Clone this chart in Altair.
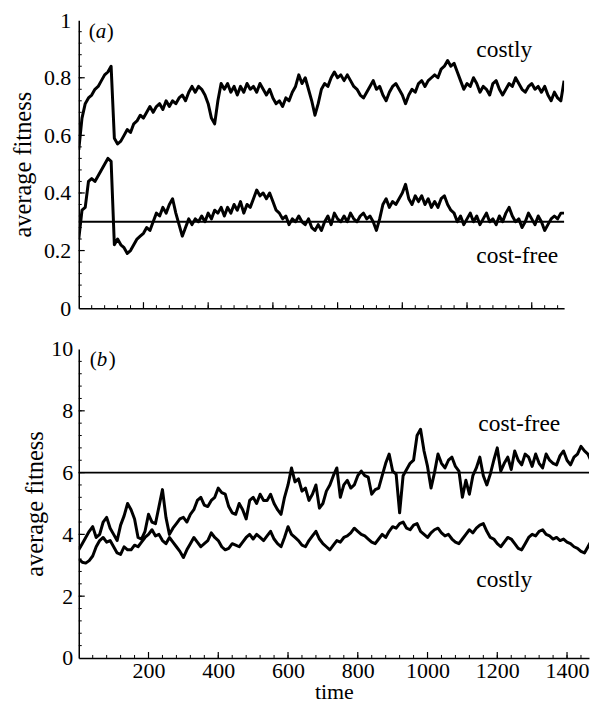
import altair as alt
import pandas as pd

FONT = "Liberation Serif"

# ---------------- panel (a) ----------------
TOP_TIME = list(range(0, 1501, 10))
TOP_COSTLY = [
    0.55, 0.66, 0.71, 0.73, 0.74, 0.76, 0.77, 0.79, 0.81, 0.82,
    0.84, 0.59, 0.57, 0.58, 0.60, 0.62, 0.61, 0.64, 0.65, 0.67,
    0.66, 0.68, 0.70, 0.68, 0.70, 0.71, 0.69, 0.72, 0.70, 0.72,
    0.71, 0.73, 0.74, 0.72, 0.75, 0.77, 0.75, 0.77, 0.76, 0.74,
    0.71, 0.66, 0.64, 0.72, 0.78, 0.76, 0.78, 0.75, 0.77, 0.74,
    0.77, 0.75, 0.78, 0.76, 0.77, 0.75, 0.78, 0.76, 0.74, 0.76,
    0.73, 0.71, 0.72, 0.70, 0.73, 0.72, 0.75, 0.77, 0.81, 0.78,
    0.80, 0.76, 0.72, 0.67, 0.71, 0.76, 0.78, 0.77, 0.80, 0.82,
    0.80, 0.81, 0.79, 0.81, 0.79, 0.77, 0.76, 0.74, 0.73, 0.75,
    0.77, 0.79, 0.76, 0.77, 0.74, 0.72, 0.75, 0.77, 0.78, 0.76,
    0.74, 0.71, 0.74, 0.76, 0.75, 0.78, 0.79, 0.77, 0.79, 0.80,
    0.81, 0.80, 0.83, 0.84, 0.86, 0.84, 0.85, 0.82, 0.79, 0.76,
    0.78, 0.77, 0.80, 0.78, 0.75, 0.77, 0.76, 0.74, 0.78, 0.79,
    0.76, 0.74, 0.76, 0.78, 0.77, 0.80, 0.78, 0.76, 0.75, 0.77,
    0.78, 0.76, 0.77, 0.75, 0.77, 0.74, 0.72, 0.75, 0.73, 0.72,
    0.79,
]
TOP_COSTFREE = [
    0.24, 0.34, 0.35, 0.44, 0.45, 0.44, 0.46, 0.48, 0.50, 0.52,
    0.51, 0.22, 0.24, 0.22, 0.21, 0.19, 0.20, 0.22, 0.24, 0.25,
    0.26, 0.28, 0.27, 0.30, 0.33, 0.32, 0.35, 0.33, 0.36, 0.38,
    0.33, 0.29, 0.25, 0.28, 0.31, 0.29, 0.31, 0.30, 0.32, 0.30,
    0.33, 0.31, 0.34, 0.33, 0.35, 0.32, 0.35, 0.33, 0.36, 0.34,
    0.37, 0.33, 0.36, 0.35, 0.38, 0.41, 0.39, 0.40, 0.38, 0.40,
    0.37, 0.34, 0.33, 0.31, 0.32, 0.29, 0.31, 0.30, 0.32, 0.30,
    0.29, 0.31, 0.28, 0.27, 0.29, 0.27, 0.30, 0.32, 0.29, 0.33,
    0.31, 0.30, 0.32, 0.30, 0.33, 0.31, 0.30, 0.32, 0.33, 0.31,
    0.32, 0.30, 0.27, 0.31, 0.36, 0.38, 0.35, 0.37, 0.36, 0.38,
    0.40, 0.43, 0.38, 0.36, 0.39, 0.37, 0.39, 0.36, 0.38, 0.35,
    0.37, 0.35, 0.38, 0.39, 0.36, 0.34, 0.33, 0.30, 0.32, 0.29,
    0.31, 0.33, 0.30, 0.32, 0.29, 0.31, 0.33, 0.30, 0.31, 0.29,
    0.32, 0.30, 0.33, 0.35, 0.32, 0.30, 0.31, 0.28, 0.30, 0.33,
    0.31, 0.29, 0.32, 0.30, 0.27, 0.29, 0.31, 0.32, 0.31, 0.33,
    0.33,
]
TOP_LEVEL = [0.3]
TOP_X_DOMAIN = [0, 1500]
TOP_Y_DOMAIN = [0, 1]
TOP_Y_LABELS = [0, 0.2, 0.4, 0.6, 0.8, 1]
TOP_X_MAJOR = [200, 400, 600, 800, 1000, 1200, 1400]
TOP_X_MINOR = list(range(40, 1500, 40))
TOP_Y_MAJOR = [0.2, 0.4, 0.6, 0.8]
TOP_Y_MINOR = [round(0.04 * i, 2) for i in range(1, 25)]

# ---------------- panel (b) ----------------
BOT_TIME = list(range(0, 1481, 10))
BOT_COSTFREE = [
    3.5, 3.7, 3.9, 4.1, 4.25, 3.9, 4.0, 4.4, 4.55, 4.2,
    4.0, 3.8, 4.3, 4.6, 5.0, 4.8, 4.5, 3.9, 3.85, 4.1,
    4.65, 4.4, 4.35, 4.9, 5.45, 4.55, 4.0, 4.2, 4.35, 4.5,
    4.55, 4.4, 4.65, 4.8, 5.1, 5.2, 4.95, 4.9, 5.1, 5.2,
    5.5, 5.35, 5.3, 4.9, 4.7, 4.65, 5.0, 4.8, 4.5, 5.1,
    5.2, 5.0, 5.3, 5.1, 5.1, 5.3, 5.0, 4.8, 4.65, 5.2,
    5.6, 6.15, 5.7, 5.8, 5.4, 5.5, 5.1, 5.3, 5.6, 4.85,
    5.0, 5.4, 5.6, 5.9, 6.15, 5.2, 5.6, 5.75, 5.5, 5.6,
    5.9, 6.05, 5.9, 5.85, 5.3, 5.45, 5.5, 5.9, 6.3, 6.6,
    6.05, 5.95, 4.7, 5.9, 6.1, 6.3, 6.4, 7.2, 7.4, 6.7,
    6.2, 5.5, 6.0, 6.6, 6.3, 6.15, 6.4, 6.5, 6.2, 6.05,
    5.2, 5.75, 5.3, 5.9, 6.15, 6.5, 5.9, 5.6, 5.95, 6.4,
    6.8, 6.05, 6.3, 6.5, 6.1, 6.7, 6.4, 6.25, 6.6, 6.5,
    6.2, 6.6, 6.3, 6.15, 6.6, 6.4, 6.3, 6.25, 6.55, 6.7,
    6.4, 6.25, 6.5, 6.6, 6.85, 6.7, 6.6, 6.35, 6.4,
]
BOT_COSTLY = [
    3.2, 3.1, 3.07, 3.15, 3.3, 3.6, 3.8, 3.9, 3.75, 3.8,
    3.6, 3.4, 3.35, 3.6, 3.5, 3.5, 3.65, 3.6, 3.75, 3.9,
    4.0, 4.15, 3.95, 4.0, 3.8, 3.7, 3.9, 3.75, 3.6, 3.45,
    3.25, 3.5, 3.7, 3.9, 3.75, 3.6, 3.7, 3.8, 4.05, 3.9,
    3.8, 3.6, 3.5, 3.55, 3.7, 3.65, 3.6, 3.75, 3.9, 4.0,
    3.85, 4.0, 3.9, 3.8, 3.95, 4.1, 3.85, 3.7, 3.6, 3.9,
    4.25, 4.0, 3.9, 3.8, 3.65, 3.6, 3.8, 3.95, 4.1, 3.85,
    3.7, 3.6, 3.5, 3.65, 3.8, 3.75, 3.9, 3.95, 4.05, 4.2,
    4.1, 4.0, 3.95, 3.85, 3.75, 3.7, 3.85, 4.0, 3.9, 4.1,
    4.25, 4.2, 4.35, 4.4, 4.2, 4.15, 4.3, 4.35, 4.1, 4.0,
    3.9, 4.05, 4.15, 4.2, 4.05, 3.95, 4.0, 3.85, 3.75, 3.7,
    3.85, 4.0, 4.15, 4.05, 4.2, 4.3, 4.35, 4.1, 3.9, 3.85,
    3.7, 3.6, 3.75, 3.9, 3.85, 3.7, 3.55, 3.5, 3.7, 3.9,
    4.0, 3.95, 4.1, 4.15, 4.0, 3.95, 3.85, 3.9, 3.8, 3.85,
    3.75, 3.7, 3.6, 3.55, 3.45, 3.4, 3.6, 3.8, 4.25,
]
BOT_LEVEL = [6.0]
BOT_X_DOMAIN = [0, 1463]
BOT_Y_DOMAIN = [0, 10]
BOT_Y_LABELS = [0, 2, 4, 6, 8, 10]
BOT_X_LABELS = [200, 400, 600, 800, 1000, 1200, 1400]
BOT_X_MINOR = list(range(40, 1463, 40))
BOT_Y_MAJOR = [2, 4, 6, 8]
BOT_Y_MINOR = [round(0.4 * i, 1) for i in range(1, 25)]

TOP_W, TOP_H = 487, 289
BOT_W, BOT_H = 512, 310


def text_layer(label, x, y, italic=False, align="center", size=23.5):
    return alt.Chart(pd.DataFrame({"label": [label]})).mark_text(
        font=FONT, fontSize=size, align=align, baseline="middle",
        fontStyle="italic" if italic else "normal", color="black",
    ).encode(text="label:N", x=alt.value(x), y=alt.value(y))


def panel(time, s1, s2, level, xdom, ydom, w, h, x_axis, y_axis,
          xmajor, xminor, ymajor, yminor, texts):
    n = len(time)
    df = pd.DataFrame({
        "time": time + time,
        "fitness": s1 + s2,
        "series": ["costly"] * n + ["cost-free"] * n,
    })
    xs = alt.Scale(domain=xdom, nice=False, zero=False)
    ys = alt.Scale(domain=ydom, nice=False, zero=False)
    lines = alt.Chart(df).mark_line(
        color="black", strokeWidth=3, clip=True, strokeJoin="round"
    ).encode(
        x=alt.X("time:Q", scale=xs, axis=x_axis),
        y=alt.Y("fitness:Q", scale=ys, axis=y_axis),
        detail="series:N",
    )
    hline = alt.Chart(pd.DataFrame({"fitness": level})).mark_rule(
        color="black", strokeWidth=1.8
    ).encode(y="fitness:Q")
    xt_minor = alt.Chart(pd.DataFrame({"time": xminor})).mark_rule(
        color="black", strokeWidth=1
    ).encode(x="time:Q", y=alt.value(h), y2=alt.value(h - 3))
    xt_major = alt.Chart(pd.DataFrame({"time": xmajor})).mark_rule(
        color="black", strokeWidth=1.2
    ).encode(x="time:Q", y=alt.value(h), y2=alt.value(h - 6))
    yt_minor = alt.Chart(pd.DataFrame({"fitness": yminor})).mark_rule(
        color="black", strokeWidth=1
    ).encode(y="fitness:Q", x=alt.value(0), x2=alt.value(3))
    yt_major = alt.Chart(pd.DataFrame({"fitness": ymajor})).mark_rule(
        color="black", strokeWidth=1.2
    ).encode(y="fitness:Q", x=alt.value(0), x2=alt.value(6))
    return alt.layer(
        lines, hline, xt_minor, xt_major, yt_minor, yt_major, *texts
    ).properties(width=w, height=h)


top = panel(
    TOP_TIME, TOP_COSTLY, TOP_COSTFREE, TOP_LEVEL, TOP_X_DOMAIN, TOP_Y_DOMAIN,
    TOP_W, TOP_H,
    alt.Axis(title=None, labels=False, ticks=False, grid=False),
    alt.Axis(title="average fitness", values=TOP_Y_LABELS, format="~g",
             ticks=False, grid=False, labelPadding=8, titlePadding=8,
             labelFontSize=22, titleFontSize=24.5),
    TOP_X_MAJOR, TOP_X_MINOR, TOP_Y_MAJOR, TOP_Y_MINOR,
    [
        text_layer("(", 10, 12, align="left", size=21),
        text_layer("a", 17, 12, italic=True, align="left", size=21),
        text_layer(")", 28, 12, align="left", size=21),
        text_layer("costly", 427, 30),
        text_layer("cost-free", 440, 237),
    ],
)

bottom = panel(
    BOT_TIME, BOT_COSTLY, BOT_COSTFREE, BOT_LEVEL, BOT_X_DOMAIN, BOT_Y_DOMAIN,
    BOT_W, BOT_H,
    alt.Axis(title="time", values=BOT_X_LABELS, format="d", ticks=False,
             grid=False, labelPadding=3, titlePadding=0,
             labelFontSize=22, titleFontSize=22),
    alt.Axis(title="average fitness", values=BOT_Y_LABELS, format="d",
             ticks=False, grid=False, labelPadding=6, titlePadding=3,
             labelFontSize=22, titleFontSize=24.5),
    BOT_X_LABELS, BOT_X_MINOR, BOT_Y_MAJOR, BOT_Y_MINOR,
    [
        text_layer("(", 11, 11, align="left", size=21),
        text_layer("b", 18, 11, italic=True, align="left", size=21),
        text_layer(")", 30, 11, align="left", size=21),
        text_layer("cost-free", 442, 75),
        text_layer("costly", 427, 232),
    ],
)

chart = alt.vconcat(top, bottom, spacing=41, bounds="flush").properties(
    padding={"left": 2, "top": 0, "right": 0, "bottom": 0},
    background="white",
).configure_view(stroke=None).configure_axis(
    labelFont=FONT, labelColor="black",
    titleFont=FONT, titleFontWeight="normal",
    titleColor="black", domainColor="black", domainWidth=1.5,
)

chart.save("out.html", embed_options={"renderer": "svg", "actions": False})
